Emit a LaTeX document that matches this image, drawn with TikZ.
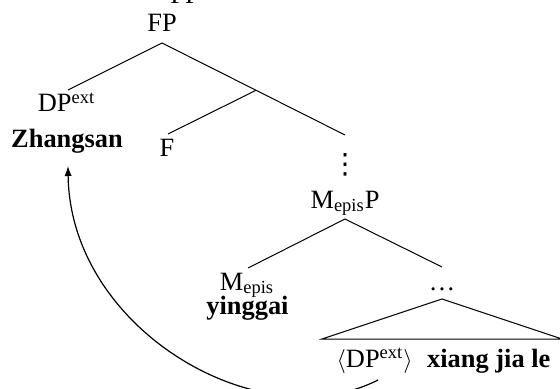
\documentclass[tikz,border=0pt]{standalone}
\usepackage{fontspec}
\setmainfont{Liberation Serif}
\newfontfamily\dvsans{DejaVu Sans}
\usetikzlibrary{arrows.meta}
\begin{document}
\begin{tikzpicture}[x=0.5pt,y=-0.5pt,
  lbl/.style={font=\fontsize{13.2}{15}\selectfont, inner sep=0pt, anchor=base},
  branch/.style={line width=0.5pt},
  move/.style={line width=0.6pt, -{Latex[length=5pt,width=3.6pt]}}]
\path[use as bounding box] (0,0) rectangle (560,389);
\clip (0,0) rectangle (560,389);
% nodes
\node[lbl] (top) at (185,4) {FP};
\node[lbl] (fp) at (162,32) {FP};
\node[lbl] (dp) at (66.5,112) {DP\textsuperscript{ext}};
\node[lbl] (zs) at (67,148) {\textbf{Zhangsan}};
\node[lbl] (f) at (167,157) {F};
\node[lbl] (vd) at (345,174) {{\dvsans\fontsize{14}{16}\selectfont ⋮}};
\node[lbl] (mp) at (345,208) {M\textsubscript{epis}P};
\node[lbl] (m) at (247,290) {M\textsubscript{epis}};
\node[lbl] (yg) at (247.5,314) {\textbf{yinggai}};
\node[lbl] (dots) at (442,290) {\dots};
\node[lbl] (low) at (443.5,367) {$\langle$DP\textsuperscript{ext}$\rangle$\hspace{0.55em}\textbf{xiang jia le}};
% branch points
\coordinate (fpb) at (162,43);
\coordinate (dpt) at (68,90);
\coordinate (fbar) at (256,90.3);
\coordinate (ft) at (168,134);
\coordinate (vdt) at (345,135);
\coordinate (mpb) at (345,219);
\coordinate (mt) at (248,268);
\coordinate (dotst) at (442,267);
\coordinate (apex) at (442,299);
\coordinate (bl) at (322,339);
\coordinate (br) at (562,339);
\coordinate (mvs) at (378,380);
\coordinate (mve) at (68,166);
% tree
\draw[branch] (dpt) -- (fpb) -- (vdt);
\draw[branch] (fbar) -- (ft);
\draw[branch] (mt) -- (mpb) -- (dotst);
\draw[branch] (bl) -- (apex) -- (br) -- cycle;
% movement arrow
\draw[move] (mvs) .. controls (260,440) and (70,330) .. (mve);
\end{tikzpicture}
\end{document}
